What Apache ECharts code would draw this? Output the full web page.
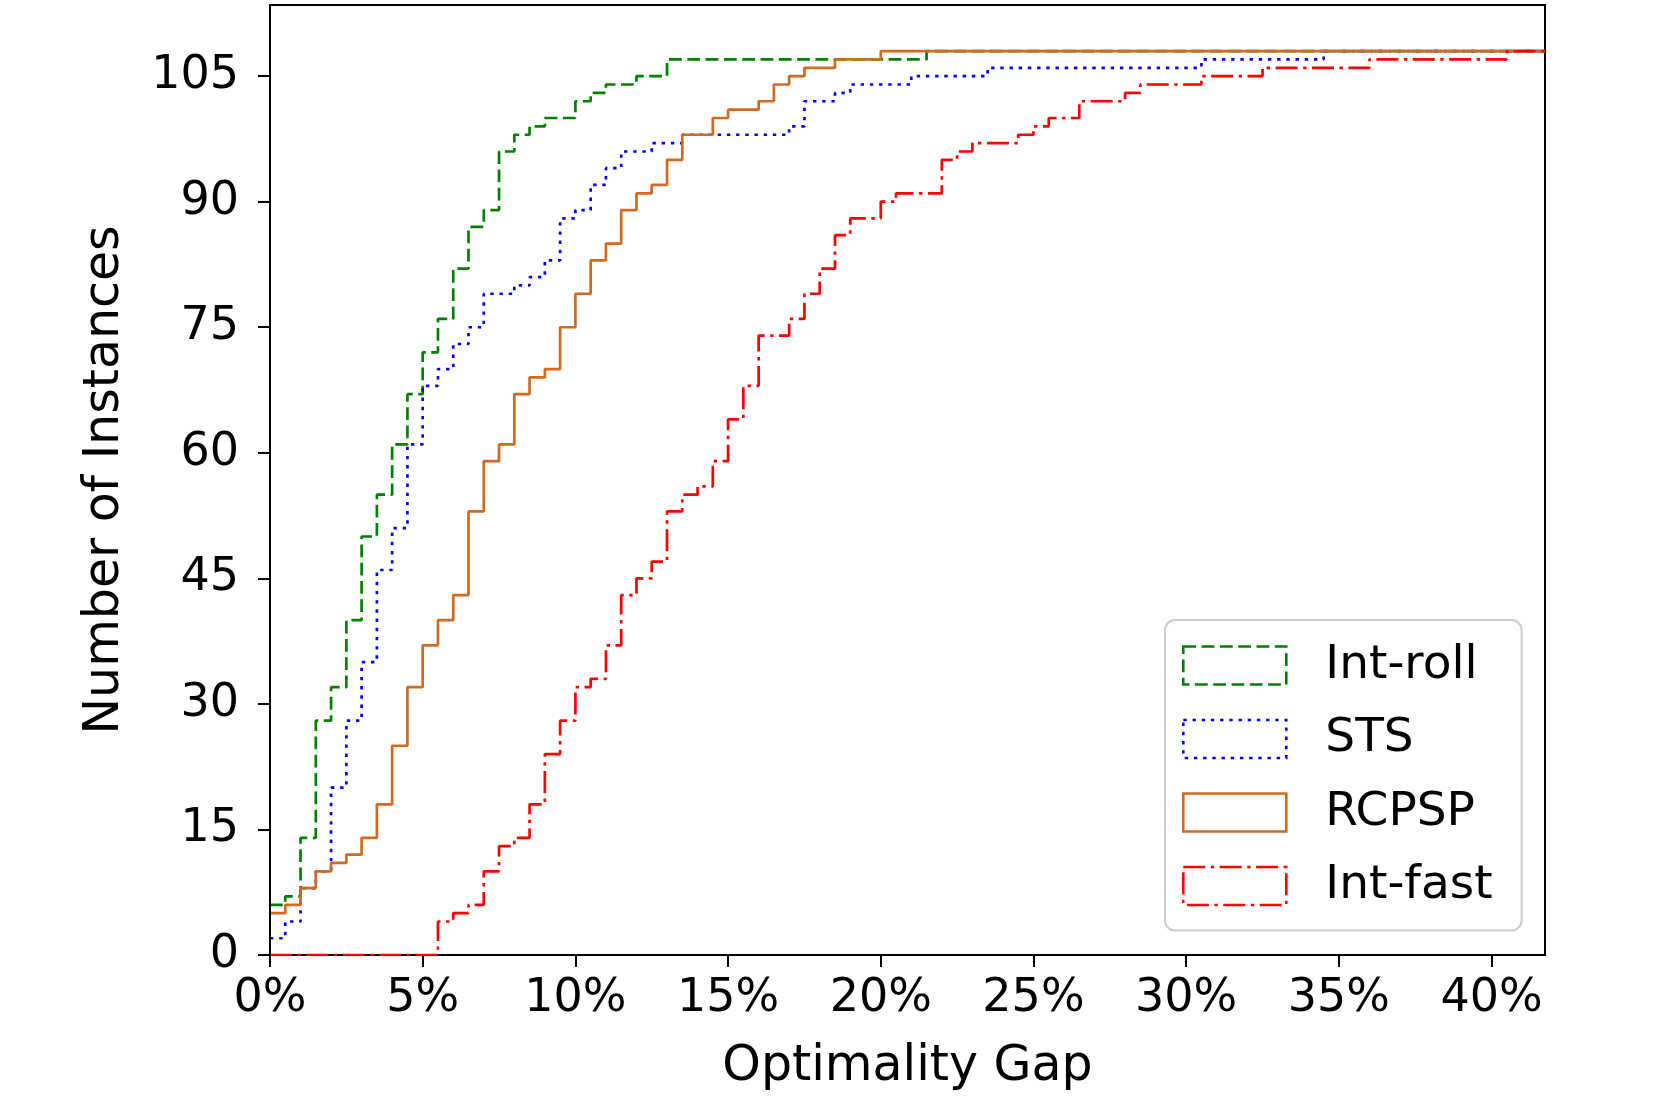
<!DOCTYPE html>
<html><head><meta charset="utf-8">
<script src="https://cdn.jsdelivr.net/npm/echarts@6/dist/echarts.min.js"></script>
<style>html,body{margin:0;padding:0;background:#fff}#chart{width:1653px;height:1103px}</style>
</head><body><div id="chart"></div>
<script>
const seriesNames = ['Int-roll', 'STS', 'RCPSP', 'Int-fast'];
const xTicks = [0, 5, 10, 15, 20, 25, 30, 35, 40];
const yTicks = [0, 15, 30, 45, 60, 75, 90, 105];
const xMax = 41.75;
const yMax = 113.5;

const intRollGap   = [0,0.5,1,1.5,2,2.5,3,3.5,4,4.5,5,5.5,6,6.5,7,7.5,8,8.5,9,10,10.5,11,12,13,21.5];
const intRollCount = [6,7,14,28,32,40,50,55,61,67,72,76,82,87,89,96,98,99,100,102,103,104,105,107,108];

const stsGap   = [0,0.5,1,1.5,2,2.5,3,3.5,4,4.5,5,5.5,6,6.5,7,8,8.5,9,9.5,10,10.5,11,11.5,12.5,13.5,17,17.5,18.5,19,21,23.5,30.5,34.5];
const stsCount = [2,4,8,10,20,28,35,46,51,61,68,70,73,75,79,80,81,83,88,89,92,94,96,97,98,99,102,103,104,105,106,107,108];

const rcpspGap   = [0,0.5,1,1.5,2,2.5,3,3.5,4,4.5,5,5.5,6,6.5,7,7.5,8,8.5,9,9.5,10,10.5,11,11.5,12,12.5,13,13.5,14.5,15,16,16.5,17,17.5,18.5,20];
const rcpspCount = [5,6,8,10,11,12,14,18,25,32,37,40,43,53,59,61,67,69,70,75,79,83,85,89,91,92,95,98,100,101,102,104,105,106,107,108];

const intFastGap   = [0,5.5,6,6.5,7,7.5,8,8.5,9,9.5,10,10.5,11,11.5,12,12.5,13,13.5,14,14.5,15,15.5,16,17,17.5,18,18.5,19,20,20.5,22,22.5,23,24.5,25,25.5,26.5,28,28.5,30.5,32.5,36,40.5];
const intFastCount = [0,4,5,6,10,13,14,18,24,28,32,33,37,43,45,47,53,55,56,59,64,68,74,76,79,82,86,88,90,91,95,96,97,98,99,100,102,103,104,105,106,107,108];

const colors = ['#008000', '#0000ff', '#d2691e', '#ff0000'];
const dashes = [[12.8, 5.5], [3.4, 5.8], 'solid', [22, 5.5, 3.4, 5.5]];

function toPairs(gaps, counts) {
  const pts = gaps.map((g, i) => [g, counts[i]]);
  pts.push([xMax, counts[counts.length - 1]]);
  return pts;
}
const allData = [
  toPairs(intRollGap, intRollCount),
  toPairs(stsGap, stsCount),
  toPairs(rcpspGap, rcpspCount),
  toPairs(intFastGap, intFastCount)
];

const FONT = 'DejaVu Sans';
const chart = echarts.init(document.getElementById('chart'), null, {renderer: 'canvas'});
chart.setOption({
  animation: false,
  backgroundColor: '#ffffff',
  textStyle: {fontFamily: FONT, color: '#000'},
  grid: {left: 270, top: 5, width: 1275, height: 950, show: true, borderColor: '#000', borderWidth: 2, backgroundColor: '#fff'},
  xAxis: {
    type: 'value', min: 0, max: xMax, interval: 5, z: 1,
    axisLine: {show: true, onZero: false, lineStyle: {color: '#000', width: 2}},
    axisTick: {show: true, length: 12, lineStyle: {color: '#000', width: 2}, customValues: xTicks},
    axisLabel: {customValues: xTicks, formatter: v => v + '%', fontSize: 46, fontFamily: FONT, color: '#000', margin: 21},
    splitLine: {show: false},
    name: 'Optimality Gap', nameLocation: 'middle', nameGap: 112,
    nameTextStyle: {fontSize: 49, fontFamily: FONT, color: '#000', verticalAlign: 'middle'}
  },
  yAxis: {
    type: 'value', min: 0, max: yMax, interval: 15, z: 5,
    axisLine: {show: true, onZero: false, lineStyle: {color: '#000', width: 2}},
    axisTick: {show: true, length: 12, lineStyle: {color: '#000', width: 2}, customValues: yTicks},
    axisLabel: {customValues: yTicks, fontSize: 46, fontFamily: FONT, color: '#000', margin: 31},
    splitLine: {show: false},
    name: 'Number of Instances', nameLocation: 'middle', nameGap: 165, nameRotate: 90,
    nameTextStyle: {fontSize: 49, fontFamily: FONT, color: '#000', verticalAlign: 'middle'}
  },
  legend: {
    left: 1165, top: 620, orient: 'vertical',
    padding: [22, 29, 21, 17],
    itemWidth: 103, itemHeight: 38, itemGap: 26.5,
    backgroundColor: 'rgba(255,255,255,0.85)', borderColor: '#cccccc', borderWidth: 2, borderRadius: 10,
    selectedMode: false,
    textStyle: {fontSize: 47, fontFamily: FONT, color: '#000', padding: [0, 0, 0, 34]},
    data: seriesNames.map((n, i) => ({
      name: n, icon: 'rect',
      itemStyle: {color: 'transparent', borderColor: colors[i], borderWidth: 2.6, borderType: dashes[i]}
    }))
  },
  series: seriesNames.map((n, i) => ({
    name: n, type: 'line', step: 'end', showSymbol: false, symbol: 'none',
    data: allData[i],
    lineStyle: {color: colors[i], width: 2.7, type: dashes[i], cap: 'butt'},
    itemStyle: {color: colors[i]},
    z: 2 + i * 0.1
  }))
});
</script></body></html>
